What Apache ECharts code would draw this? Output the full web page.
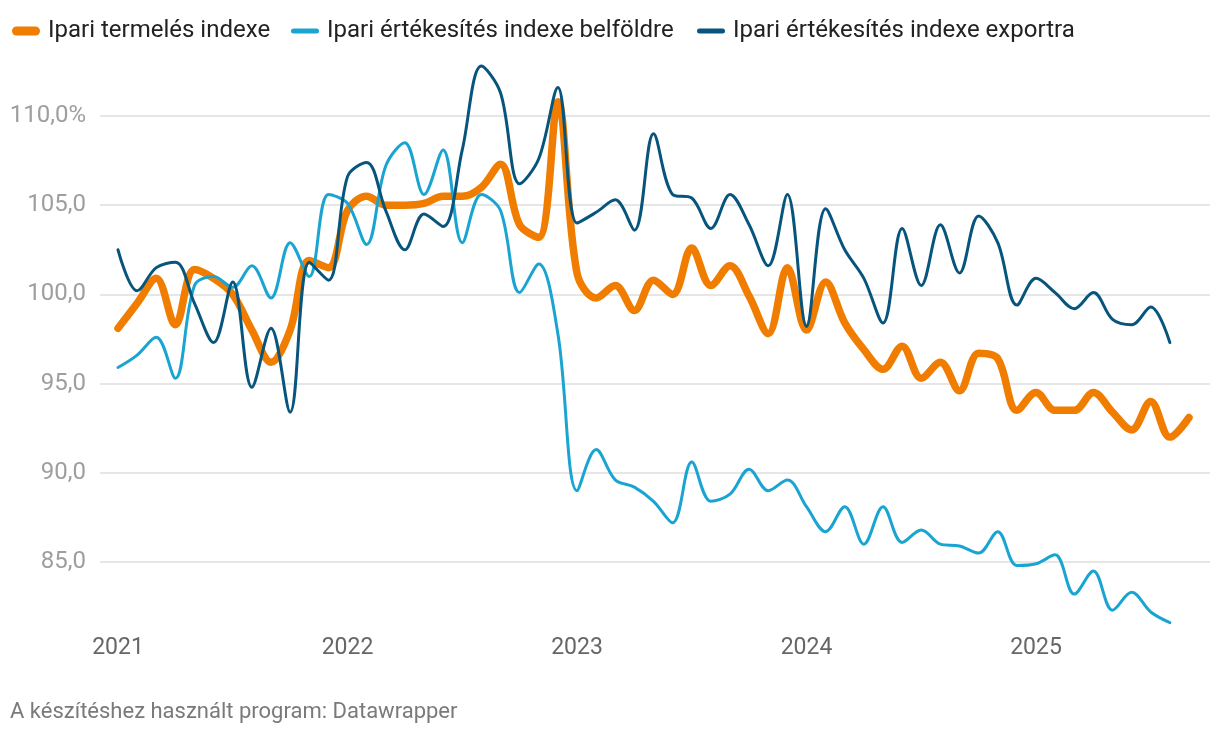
<!DOCTYPE html>
<html><head><meta charset="utf-8">
<script src="https://cdn.jsdelivr.net/npm/echarts@6/dist/echarts.min.js"></script>
<style>html,body{margin:0;padding:0;background:#fff}#c{width:1220px;height:738px}</style>
</head><body><div id="c"></div>
<script>
const seriesNames = ['Ipari termelés indexe', 'Ipari értékesítés indexe belföldre', 'Ipari értékesítés indexe exportra'];
const seriesColors = ['#f07d00', '#1aa4d1', '#07557c'];
const yearLabels = ['2021', '2022', '2023', '2024', '2025'];
const yearTickIndex = [0, 12, 24, 36, 48];
const yTicks = [85, 90, 95, 100, 105, 110];
const footerText = 'A készítéshez használt program: Datawrapper';

// monthly values, Jan 2021 onward
const termeles = [
  98.1, 99.5, 100.9, 98.3, 101.4, 100.9, 100.0, 98.0, 96.2, 98.0, 101.9, 101.5,
  104.7, 105.5, 105.0, 105.0, 105.1, 105.5, 105.5, 106.0, 107.3, 103.9, 103.2, 110.8,
  101.2, 99.8, 100.5, 99.1, 100.8, 100.0, 102.6, 100.5, 101.6, 99.9, 97.8, 101.5,
  98.0, 100.7, 98.4, 96.9, 95.8, 97.1, 95.3, 96.2, 94.6, 96.7, 96.4, 93.5,
  94.5, 93.5, 93.5, 94.5, 93.4, 92.4, 94.0, 92.0, 93.1
];
const belfold = [
  95.9, 96.6, 97.6, 95.3, 100.5, 101.0, 100.4, 101.6, 99.8, 102.9, 101.0, 105.6,
  105.1, 102.8, 107.2, 108.5, 105.6, 108.1, 102.9, 105.6, 104.7, 100.1, 101.7, 97.8,
  89.0, 91.3, 89.6, 89.2, 88.4, 87.2, 90.6, 88.4, 88.8, 90.2, 89.0, 89.6,
  88.1, 86.7, 88.1, 86.0, 88.1, 86.1, 86.8, 86.0, 85.9, 85.5, 86.7, 84.8,
  84.9, 85.4, 83.2, 84.5, 82.3, 83.3, 82.2, 81.6
];
const exportra = [
  102.5, 100.2, 101.5, 101.8, 99.5, 97.3, 100.7, 94.8, 98.1, 93.4, 101.8, 100.8,
  106.6, 107.4, 104.7, 102.5, 104.5, 103.8, 108.1, 112.8, 111.3, 106.2, 107.6, 111.6,
  104.0, 104.6, 105.3, 103.6, 109.0, 105.6, 105.4, 103.7, 105.6, 103.9, 101.6, 105.6,
  98.2, 104.8, 102.5, 100.9, 98.4, 103.7, 100.5, 103.9, 101.2, 104.4, 102.9, 99.4,
  100.9, 100.1, 99.2, 100.1, 98.6, 98.3, 99.3, 97.3
];

const FONT = 'Roboto, "Noto Sans", sans-serif';
const chart = echarts.init(document.getElementById('c'), null, {renderer: 'canvas'});
const toPairs = arr => arr.map((v, i) => [i, v]);
const pill = (w, h) => {
  const r = h / 2;
  return `path://M${r},0 H${w - r} A${r},${r} 0 0 1 ${w - r},${h} H${r} A${r},${r} 0 0 1 ${r},0 Z`;
};
const legendDefs = [
  {left: 12, h: 9},
  {left: 291, h: 5},
  {left: 697, h: 5}
];
const gridColors = [];
for (let v = 80; v <= 115; v += 5) gridColors.push(yTicks.includes(v) ? '#e6e6e6' : 'rgba(0,0,0,0)');

const option = {
  backgroundColor: '#fff',
  animation: false,
  textStyle: {fontFamily: FONT},
  legend: legendDefs.map((d, i) => ({
    left: d.left, top: 19, padding: 0,
    itemWidth: 28, itemHeight: d.h,
    selectedMode: false,
    data: [{name: seriesNames[i], icon: pill(28, d.h)}],
    textStyle: {fontFamily: FONT, fontSize: 24, color: '#222', padding: [0, 0, 0, 3]}
  })),
  grid: {left: 100, right: 10, top: 26.8, bottom: 86.8, containLabel: false},
  xAxis: {
    type: 'value', min: -0.941, max: 57.098,
    axisLine: {show: false}, axisTick: {show: false}, splitLine: {show: false},
    axisLabel: {
      customValues: yearTickIndex,
      formatter: v => yearLabels[yearTickIndex.indexOf(Math.round(v))] || '',
      fontFamily: FONT, fontSize: 23, color: '#666', margin: -14
    }
  },
  yAxis: {
    type: 'value', min: 80, max: 115, interval: 5,
    axisLine: {show: false}, axisTick: {show: false},
    splitLine: {show: true, lineStyle: {color: gridColors, width: 2}},
    axisLabel: {
      formatter: v => {
        if (!yTicks.includes(v)) return '';
        const s = v.toFixed(1).replace('.', ',');
        return v === yTicks[yTicks.length - 1] ? s + '%' : s;
      },
      fontFamily: FONT, fontSize: 24, color: '#9e9e9e', margin: 14
    }
  },
  series: [
    {name: seriesNames[0], type: 'line', data: toPairs(termeles), smooth: 0.35, symbol: 'none',
     lineStyle: {width: 7.5, color: seriesColors[0], cap: 'round', join: 'round'}, itemStyle: {color: seriesColors[0]}, z: 2},
    {name: seriesNames[1], type: 'line', data: toPairs(belfold), smooth: 0.35, symbol: 'none',
     lineStyle: {width: 3, color: seriesColors[1], cap: 'round', join: 'round'}, itemStyle: {color: seriesColors[1]}, z: 3},
    {name: seriesNames[2], type: 'line', data: toPairs(exportra), smooth: 0.35, symbol: 'none',
     lineStyle: {width: 3, color: seriesColors[2], cap: 'round', join: 'round'}, itemStyle: {color: seriesColors[2]}, z: 4}
  ],
  graphic: [{
    type: 'text', left: 10, top: 701,
    style: {text: footerText, fontFamily: FONT, fontSize: 22, fill: '#7a7a7a'}
  }]
};
chart.setOption(option);
</script>
</body></html>
